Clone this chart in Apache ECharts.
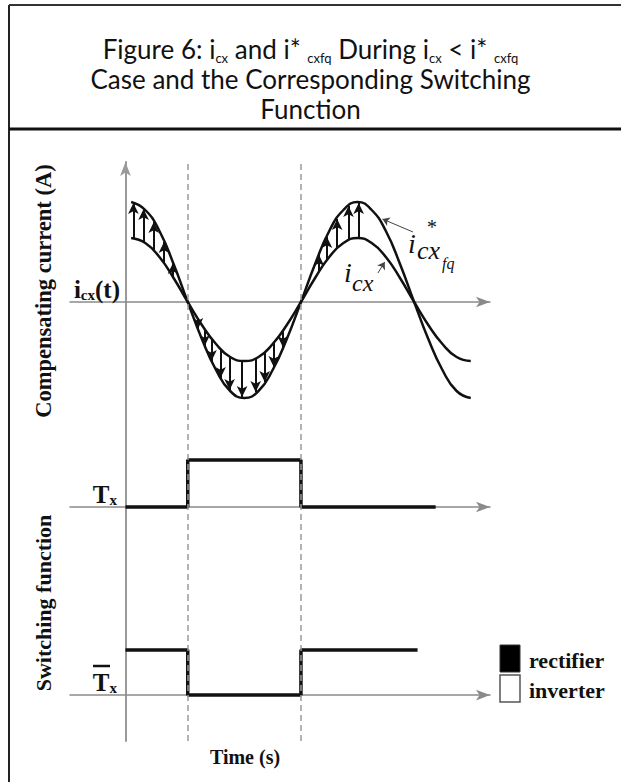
<!DOCTYPE html>
<html>
<head>
<meta charset="utf-8">
<script src="https://cdn.jsdelivr.net/npm/echarts@6/dist/echarts.min.js"></script>
<style>
  html, body { margin: 0; padding: 0; background: #fff; }
  #chart { width: 621px; height: 782px; }
</style>
</head>
<body>
<div id="chart"></div>
<script>
// sample times along the waveforms (arbitrary time units)
const timeSamples = [0.5, 1.75, 3.0, 4.25, 5.5, 6.75, 8.0, 9.25, 10.5, 11.75, 13.0, 14.25,
  15.5, 16.75, 18.0, 19.25, 20.5, 21.75, 23.0, 24.25, 25.5, 26.75, 28.0, 29.25, 30.5]
// reference compensating current i*cxfq
const icxfqValues = [10, 9.2, 7.1, 3.8, 0, -3.7, -6.8, -8.9, -9.6, -8.9, -6.8, -3.7,
  0, 3.8, 7.1, 9.2, 10, 9.2, 7.1, 3.8, 0, -3.7, -6.8, -8.9, -9.6]
// actual compensating current icx
const icxValues = [6.4, 5.9, 4.5, 2.4, 0, -2.3, -4.2, -5.5, -5.9, -5.5, -4.2, -2.3,
  0, 2.4, 4.5, 5.9, 6.4, 5.9, 4.5, 2.4, 0, -2.3, -4.2, -5.5, -5.9]

// error arrows drawn from icx to i*cxfq
const arrowTimes = [0.7, 1.6, 2.5, 3.4, 4.2,
  6.4, 7.0, 7.6, 8.4, 9.2, 10.3, 11.5, 12.3, 13.1, 13.9,
  17.1, 17.8, 18.7, 19.7, 20.6]
const arrowFrom = [6.4, 6.0, 5.2, 3.9, 2.5,
  -1.6, -2.7, -3.6, -4.7, -5.4, -5.9, -5.6, -5.0, -4.0, -2.8,
  3.1, 4.2, 5.4, 6.2, 6.4]
const arrowTo = [9.9, 9.3, 8.0, 6.0, 3.9,
  -2.7, -4.4, -5.9, -7.6, -8.8, -9.5, -9.0, -8.0, -6.5, -4.5,
  4.7, 6.5, 8.3, 9.6, 9.9]

// switching instants
const switchEdges = [5.5, 15.5]

// switching functions
const txTimes = [0, 5.5, 5.5, 15.5, 15.5, 27.4]
const txLevels = [0, 0, 1, 1, 0, 0]
const txBarTimes = [0, 5.5, 5.5, 15.5, 15.5, 25.8]
const txBarLevels = [1, 1, 0, 0, 1, 1]

const serif = 'Liberation Serif'
const axisGray = '#8a8a8a'

const zip = (xs, ys) => xs.map((x, i) => [x, ys[i]])

const dashedEdges = switchEdges.map(t => ({
  xAxis: t,
  lineStyle: { color: '#9a9a9a', type: [6, 4], width: 1.5 }
}))

const errorArrows = arrowTimes.map((t, i) => [
  { coord: [t, arrowFrom[i]] },
  { coord: [t, arrowTo[i]] }
])

function xAxisFor(gridIndex) {
  return {
    type: 'value',
    gridIndex: gridIndex,
    min: -4.9,
    max: 32.2,
    axisLine: {
      show: true,
      onZero: true,
      symbol: ['none', 'arrow'],
      symbolSize: [8, 14],
      lineStyle: { color: axisGray, width: 1.5 }
    },
    axisTick: { show: false },
    axisLabel: { show: false },
    splitLine: { show: false }
  }
}

const labelRich = {
  b: { fontFamily: serif, fontWeight: 'bold', fontSize: 25, color: '#111', lineHeight: 26, verticalAlign: 'middle' },
  s: { fontFamily: serif, fontWeight: 'bold', fontSize: 15, color: '#111', lineHeight: 14, verticalAlign: 'bottom' }
}

// labels sit next to the zero-positioned y axis (x = 0), grid starts 55px left of it
function yAxisFor(gridIndex, min, max, label, arrow, margin) {
  return {
    type: 'value',
    gridIndex: gridIndex,
    min: min,
    max: max,
    axisLine: {
      show: true,
      onZero: true,
      symbol: arrow ? ['none', 'arrow'] : ['none', 'none'],
      symbolSize: [8, 14],
      lineStyle: { color: '#9a9a9a', width: 2 }
    },
    axisTick: { show: false },
    splitLine: { show: false },
    axisLabel: {
      show: true,
      customValues: [0],
      margin: margin,
      verticalAlign: 'bottom',
      formatter: () => label,
      rich: labelRich
    }
  }
}

const ital = (text, x, y, size) => ({
  type: 'text', x: x, y: y,
  style: { text: text, fontFamily: serif, fontStyle: 'italic', fontSize: size, fill: '#111', verticalAlign: 'middle' }
})

const chart = echarts.init(document.getElementById('chart'), null, { renderer: 'svg' })

const option = {
  backgroundColor: '#fff',
  animation: false,
  title: {
    left: 'center',
    top: 29,
    text: '{m|Figure 6: i}{s|cx}{m| and i* }{s|cxfq}{m| During i}{s|cx}{m| < i* }{s|cxfq}\n' +
      '{m|Case and the Corresponding Switching}\n{m|Function}',
    textStyle: {
      fontWeight: 'normal',
      rich: {
        m: { fontFamily: 'Lato', fontWeight: 'normal', fontSize: 26, color: '#111', lineHeight: 30, verticalAlign: 'middle' },
        s: { fontFamily: 'Lato', fontWeight: 'normal', fontSize: 13, color: '#111', lineHeight: 10, verticalAlign: 'bottom' }
      }
    }
  },
  grid: [
    { left: 70, right: 131, top: 162, height: 268 },
    { left: 70, right: 131, top: 430, height: 170 },
    { left: 70, right: 131, top: 600, height: 141 }
  ],
  xAxis: [xAxisFor(0), xAxisFor(1), xAxisFor(2)],
  yAxis: [
    yAxisFor(0, -12.8, 14, '{b|i}{s|cx}{b|(t)}', true, -50),
    yAxisFor(1, -1.98, 1.64, '{b|T}{s|x}', false, -47),
    yAxisFor(2, -1.02, 2.11, '{b|T}{s|x}', false, -47)
  ],
  series: [
    {
      name: 'i*cxfq',
      type: 'line',
      xAxisIndex: 0,
      yAxisIndex: 0,
      smooth: true,
      showSymbol: false,
      data: zip(timeSamples, icxfqValues),
      lineStyle: { color: '#111', width: 2.5 },
      markLine: {
        silent: true,
        symbol: ['none', 'none'],
        label: { show: false },
        data: [
          ...dashedEdges,
          [
            { coord: [25.4, 7.0], symbol: 'none', lineStyle: { color: '#444', width: 1, type: 'solid' } },
            { coord: [22.7, 8.3], symbol: 'arrow', symbolSize: 7 }
          ],
          [
            { coord: [22.3, 2.9], symbol: 'none', lineStyle: { color: '#444', width: 1, type: 'solid' } },
            { coord: [22.9, 4.0], symbol: 'arrow', symbolSize: 7 }
          ]
        ]
      }
    },
    {
      name: 'icx',
      type: 'line',
      xAxisIndex: 0,
      yAxisIndex: 0,
      smooth: true,
      showSymbol: false,
      data: zip(timeSamples, icxValues),
      lineStyle: { color: '#111', width: 2.5 },
      markLine: {
        silent: true,
        symbol: ['none', 'arrow'],
        symbolSize: [8, 11],
        label: { show: false },
        lineStyle: { color: '#111', width: 2, type: 'solid' },
        data: errorArrows
      }
    },
    {
      name: 'Tx',
      type: 'line',
      xAxisIndex: 1,
      yAxisIndex: 1,
      showSymbol: false,
      data: zip(txTimes, txLevels),
      lineStyle: { color: '#111', width: 3.5 },
      markLine: { silent: true, symbol: ['none', 'none'], label: { show: false }, data: dashedEdges }
    },
    {
      name: 'Tx bar',
      type: 'line',
      xAxisIndex: 2,
      yAxisIndex: 2,
      showSymbol: false,
      data: zip(txBarTimes, txBarLevels),
      lineStyle: { color: '#111', width: 3.5 },
      markLine: { silent: true, symbol: ['none', 'none'], label: { show: false }, data: dashedEdges }
    }
  ],
  graphic: [
    // frame
    { type: 'line', shape: { x1: 9, y1: 5, x2: 9, y2: 782 }, style: { stroke: '#222', lineWidth: 2 } },
    { type: 'line', shape: { x1: 9, y1: 5, x2: 621, y2: 5 }, style: { stroke: '#333', lineWidth: 2 } },
    { type: 'line', shape: { x1: 9, y1: 129, x2: 621, y2: 129 }, style: { stroke: '#111', lineWidth: 3 } },
    // overline of the complementary switching function label
    { type: 'line', shape: { x1: 93, y1: 666, x2: 110, y2: 666 }, style: { stroke: '#111', lineWidth: 2.5 } },
    // rotated axis titles
    {
      type: 'text', x: 43, y: 291, rotation: Math.PI / 2,
      style: { text: 'Compensating current (A)', fontFamily: serif, fontWeight: 'bold', fontSize: 22.5, fill: '#111', align: 'center', verticalAlign: 'middle' }
    },
    {
      type: 'text', x: 43, y: 603, rotation: Math.PI / 2,
      style: { text: 'Switching function', fontFamily: serif, fontWeight: 'bold', fontSize: 22, fill: '#111', align: 'center', verticalAlign: 'middle' }
    },
    {
      type: 'text', x: 245, y: 757,
      style: { text: 'Time (s)', fontFamily: serif, fontWeight: 'bold', fontSize: 20, fill: '#111', align: 'center', verticalAlign: 'middle' }
    },
    // curve annotations
    ital('i', 344, 272, 28),
    ital('cx', 352, 283, 24),
    ital('i', 408, 243, 28),
    ital('*', 426, 227, 20),
    ital('cx', 417, 250, 26),
    ital('fq', 442, 263, 16),
    // legend
    { type: 'rect', shape: { x: 500, y: 645, width: 20, height: 27 }, style: { fill: '#000', stroke: '#333', lineWidth: 1 } },
    { type: 'rect', shape: { x: 500, y: 675, width: 20, height: 27 }, style: { fill: '#fff', stroke: '#555', lineWidth: 1.5 } },
    { type: 'text', x: 529, y: 660, style: { text: 'rectifier', fontFamily: serif, fontWeight: 'bold', fontSize: 22, fill: '#111', verticalAlign: 'middle' } },
    { type: 'text', x: 529, y: 690, style: { text: 'inverter', fontFamily: serif, fontWeight: 'bold', fontSize: 22, fill: '#111', verticalAlign: 'middle' } }
  ]
}

chart.setOption(option)
</script>
</body>
</html>
